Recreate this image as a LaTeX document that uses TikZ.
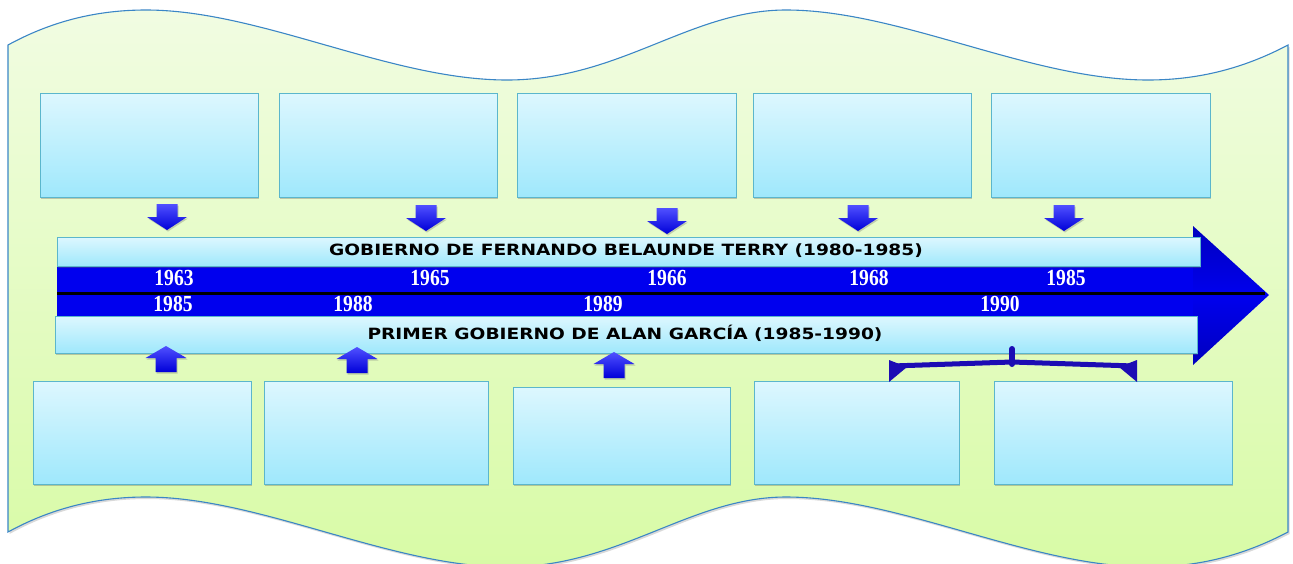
\documentclass[tikz,border=0pt]{standalone}
\usepackage{fontspec}
\setmainfont{Liberation Serif}
\newfontfamily\headfont{DejaVu Sans}
\usetikzlibrary{shadows}
\definecolor{waveline}{HTML}{3B86C6}
\definecolor{wavetop}{HTML}{F1FCE2}
\definecolor{wavebot}{HTML}{D8FBA6}
\definecolor{boxtop}{HTML}{DDF7FE}
\definecolor{boxbot}{HTML}{9FE8FC}
\definecolor{boxline}{HTML}{5BB6CC}
\definecolor{bandblue}{HTML}{0000EE}
\definecolor{arrtop}{HTML}{5050FF}
\definecolor{arrbot}{HTML}{0000D8}
\definecolor{bracecol}{HTML}{1C0CB4}
\tikzset{
  infobox/.style={draw=boxline, line width=0.8pt, top color=boxtop, bottom color=boxbot,
    inner sep=0pt, drop shadow={shadow xshift=1pt, shadow yshift=-2pt, opacity=0.35, fill=black!60}},
  lightbar/.style={draw=boxline, line width=0.8pt, top color=boxtop, bottom color=boxbot,
    drop shadow={shadow xshift=1pt, shadow yshift=-2pt, opacity=0.35, fill=black!60}},
  year/.style={text=white, font=\bfseries\fontsize{23}{23}\selectfont, inner sep=0pt},
  heading/.style={font=\headfont\bfseries\fontsize{15.5}{16}\selectfont, text=black, inner sep=0pt},
  blockarrow/.style={top color=arrtop, bottom color=arrbot, draw=none,
    drop shadow={shadow xshift=1pt, shadow yshift=-1.5pt, opacity=0.3, fill=black!60}},
}
\newcommand\dnarrowat[3]{% x, top y, name
  \path[blockarrow] (#1-10.5,#2) -- (#1+10.5,#2) -- (#1+10.5,#2+13) -- (#1+20,#2+13)
    -- (#1,#2+26) -- (#1-20,#2+13) -- (#1-10.5,#2+13) -- cycle;
  \coordinate (#3) at (#1,#2);}
\newcommand\uparrowat[3]{% x, tip y, name
  \path[blockarrow] (#1,#2) -- (#1+20.5,#2+12) -- (#1+10.5,#2+12) -- (#1+10.5,#2+26)
    -- (#1-10.5,#2+26) -- (#1-10.5,#2+12) -- (#1-20.5,#2+12) -- cycle;
  \coordinate (#3) at (#1,#2);}
\newcommand\yr[1]{\scalebox{0.85}[1]{#1}}
\begin{document}
\begin{tikzpicture}[x=1pt,y=-1pt]
\useasboundingbox (0,0) rectangle (1293,563);
% wave banner
\path[draw=waveline, line width=1.1pt, top color=wavetop, bottom color=wavebot,
  drop shadow={shadow xshift=1.5pt, shadow yshift=-2pt, opacity=0.25, fill=black!60}]
  (8,45) .. controls (50,22) and (95,10) .. (146,10)
  .. controls (260,10) and (390,80) .. (507,80)
  .. controls (620,80) and (690,10) .. (786,10)
  .. controls (900,10) and (1030,80) .. (1148,80)
  .. controls (1205,80) and (1250,65) .. (1288,45)
  -- (1288,532)
  .. controls (1250,552) and (1205,567) .. (1148,567)
  .. controls (1030,567) and (900,497) .. (786,497)
  .. controls (690,497) and (620,567) .. (507,567)
  .. controls (390,567) and (260,497) .. (146,497)
  .. controls (95,497) and (50,509) .. (8,532)
  -- cycle;
% top boxes
\node[infobox, minimum width=218pt, minimum height=104pt] (t1) at (149,145) {};
\node[infobox, minimum width=218pt, minimum height=104pt] (t2) at (388,145) {};
\node[infobox, minimum width=219pt, minimum height=104pt] (t3) at (626.5,145) {};
\node[infobox, minimum width=218pt, minimum height=104pt] (t4) at (862,145) {};
\node[infobox, minimum width=219pt, minimum height=104pt] (t5) at (1100.5,145) {};
% bottom boxes
\node[infobox, minimum width=218pt, minimum height=103pt] (b1) at (142,432.5) {};
\node[infobox, minimum width=224pt, minimum height=103pt] (b2) at (376,432.5) {};
\node[infobox, minimum width=217pt, minimum height=97pt] (b3) at (621.5,435.5) {};
\node[infobox, minimum width=205pt, minimum height=103pt] (b4) at (856.5,432.5) {};
\node[infobox, minimum width=238pt, minimum height=103pt] (b5) at (1113,432.5) {};
% down arrows
\dnarrowat{167}{204}{d1}
\dnarrowat{426}{205}{d2}
\dnarrowat{667}{208}{d3}
\dnarrowat{858}{205}{d4}
\dnarrowat{1064}{205}{d5}
% timeline arrow
\fill[bandblue] (57,264) rectangle (1195,318);
\path[top color=bandblue!80!black, bottom color=bandblue!80!black, middle color=bandblue]
  (1193,226) -- (1269,295) -- (1193,365) -- cycle;
\draw[black, line width=3pt] (57,293) -- (1265,293);
\node[lightbar, minimum width=1143pt, minimum height=29pt, inner sep=0pt] (gov1) at (628.5,251.5) {};
\node[lightbar, minimum width=1142pt, minimum height=37pt, inner sep=0pt] (gov2) at (626,334.5) {};
\node[heading] (h1) at (626,251) {\scalebox{1.2}[1]{GOBIERNO DE FERNANDO BELAUNDE TERRY (1980-1985)}};
\node[heading] (h2) at (625,333) {\scalebox{1.2}[1]{PRIMER GOBIERNO DE ALAN GARCÍA (1985-1990)}};
% years
\node[year] (y1) at (174,278) {\yr{1963}};
\node[year] (y2) at (430,278) {\yr{1965}};
\node[year] (y3) at (667,278) {\yr{1966}};
\node[year] (y4) at (869,278) {\yr{1968}};
\node[year] (y5) at (1066,278) {\yr{1985}};
\node[year] (z1) at (173,304) {\yr{1985}};
\node[year] (z2) at (353,304) {\yr{1988}};
\node[year] (z3) at (603,304) {\yr{1989}};
\node[year] (z4) at (1000,304) {\yr{1990}};
% up arrows
\uparrowat{166}{346}{u1}
\uparrowat{357}{347}{u2}
\uparrowat{614}{352}{u3}
% bracket
\draw[bracecol, line width=5pt] (892,366) -- (1012,362) -- (1134,366);
\draw[bracecol, line width=6pt, line cap=round] (1012,364) -- (1012,349);
\fill[bracecol] (889,360) -- (889,382) -- (907,367) -- cycle;
\fill[bracecol] (1137,360) -- (1137,382) -- (1119,367) -- cycle;
\end{tikzpicture}
\end{document}
